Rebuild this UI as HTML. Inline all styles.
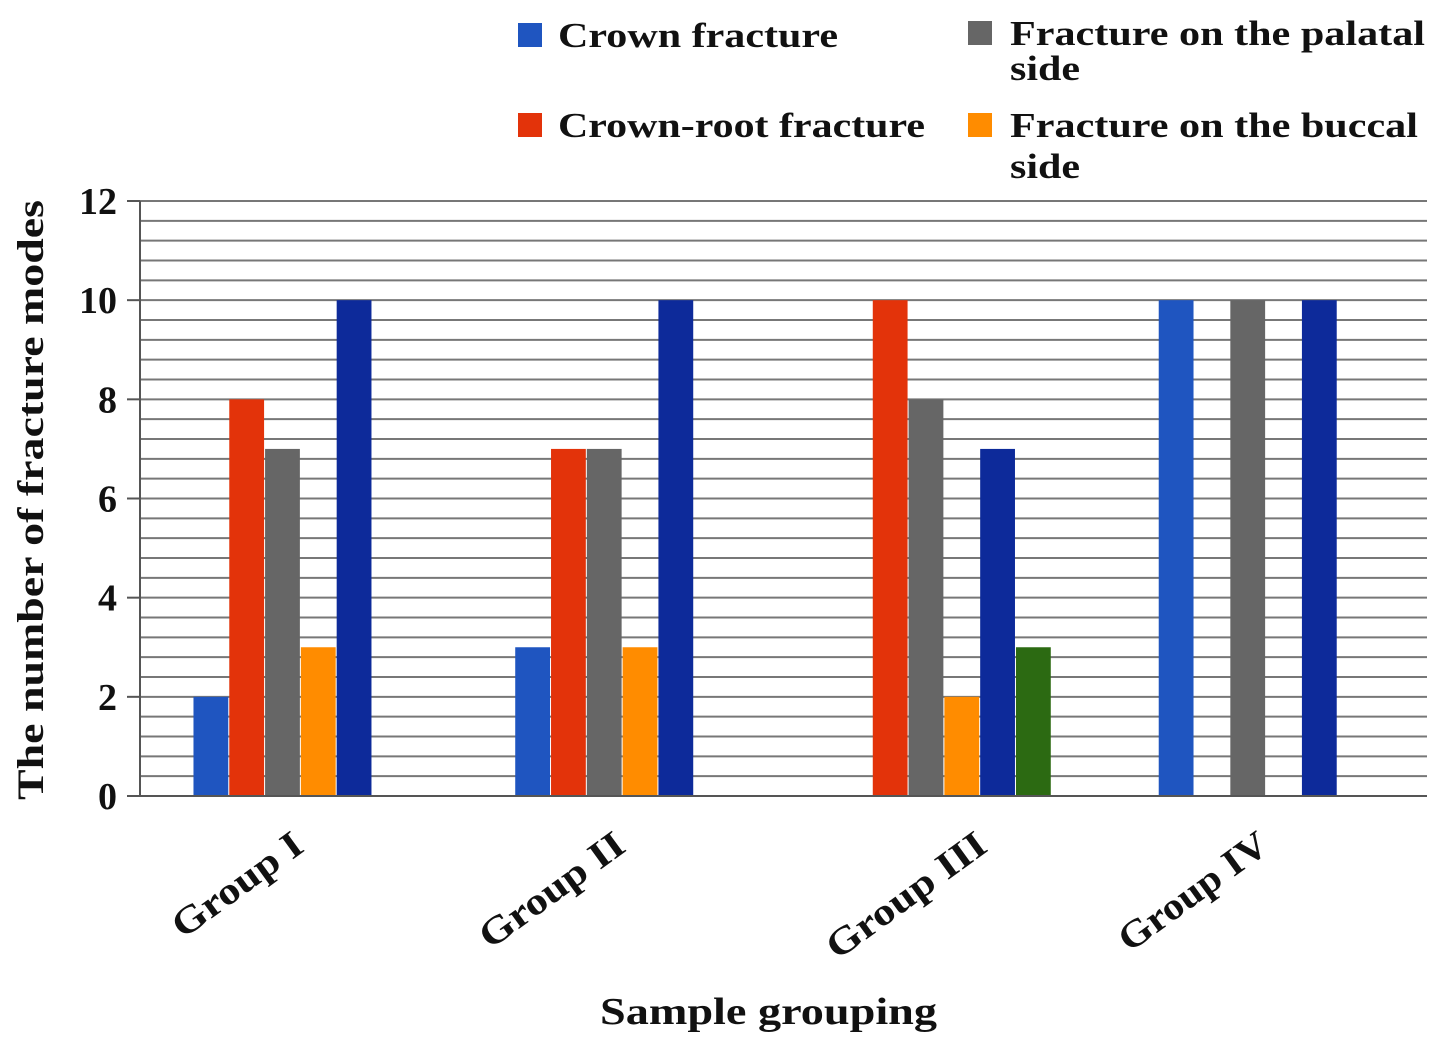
<!DOCTYPE html>
<html><head><meta charset="utf-8"><style>
body{margin:0;background:#fff;}
svg text{font-family:"Liberation Serif",serif;font-weight:bold;fill:#111;}
</style></head><body>
<svg id="chart" width="1441" height="1045" xmlns="http://www.w3.org/2000/svg">
<g id="grid"></g>
<g id="bars"></g>
<g id="axes"></g>
<text transform="translate(43,500) rotate(-90)" text-anchor="middle" font-size="37" textLength="600" lengthAdjust="spacingAndGlyphs">The number of fracture modes</text>
<text x="600" y="1024" font-size="38" textLength="337" lengthAdjust="spacingAndGlyphs">Sample grouping</text>
<g>
<rect x="518" y="23" width="24" height="24" fill="#1f55c0"/>
<text x="558" y="47" font-size="35" textLength="280" lengthAdjust="spacingAndGlyphs">Crown fracture</text>
<rect x="518" y="113" width="24" height="24" fill="#e3330a"/>
<text x="558" y="137" font-size="35" textLength="367" lengthAdjust="spacingAndGlyphs">Crown-root fracture</text>
<rect x="968" y="21" width="24" height="24" fill="#666666"/>
<text x="1010" y="45" font-size="35" textLength="415" lengthAdjust="spacingAndGlyphs">Fracture on the palatal</text>
<text x="1010" y="80" font-size="35" textLength="70" lengthAdjust="spacingAndGlyphs">side</text>
<rect x="968" y="113" width="24" height="24" fill="#ff8c00"/>
<text x="1010" y="137" font-size="35" textLength="408" lengthAdjust="spacingAndGlyphs">Fracture on the buccal</text>
<text x="1010" y="178" font-size="35" textLength="70" lengthAdjust="spacingAndGlyphs">side</text>
</g>
</svg>
<script>
const categories=["Group I","Group II","Group III","Group IV"];
const crown=[2,3,0,10];
const crownRoot=[8,7,10,0];
const palatal=[7,7,8,10];
const buccal=[3,3,2,0];
const navySeries=[10,10,7,10];
const greenSeries=[0,0,3,0];
const yTicks=[0,2,4,6,8,10,12];
const NS="http://www.w3.org/2000/svg";
const X0=140,X1=1427,Y0=796,Y12=201,YMAX=12;
const y=v=>Y0-(v/YMAX)*(Y0-Y12);
const catW=(X1-X0)/categories.length;
const slotW=35.8;
const series=[[crown,"#1f55c0","crown"],[crownRoot,"#e3330a","crown-root"],[palatal,"#666666","palatal"],[buccal,"#ff8c00","buccal"],[navySeries,"#0d2a9a","navy"],[greenSeries,"#2c6a12","green"]];
const xs=(i,s)=>X0+i*catW+(catW-slotW*series.length)/2+s*slotW;
function mk(tag,attrs,parent){const e=document.createElementNS(NS,tag);for(const k in attrs)e.setAttribute(k,attrs[k]);parent.appendChild(e);return e;}
const grid=document.getElementById('grid'),bars=document.getElementById('bars'),axes=document.getElementById('axes');
for(let v=0.4;v<=YMAX+0.001;v+=0.4){const l=mk('line',{x1:X0,x2:X1,y1:y(v),y2:y(v),stroke:'#777','stroke-width':2},grid);

}
series.forEach((sr,s)=>{sr[0].forEach((v,i)=>{if(v<=0)return;const r=mk('rect',{x:xs(i,s),y:y(v),width:slotW-1,height:Y0-y(v),fill:sr[1]},bars);

});});
mk('line',{x1:X0,x2:X0,y1:Y12,y2:Y0,stroke:'#555','stroke-width':2},axes);
mk('line',{x1:X0,x2:X1,y1:Y0,y2:Y0,stroke:'#555','stroke-width':2},axes);
yTicks.forEach(v=>{mk('line',{x1:127,x2:X0,y1:y(v),y2:y(v),stroke:'#555','stroke-width':2},axes);
const t=mk('text',{x:117,y:y(v)+13,'text-anchor':'end','font-size':38},axes);t.textContent=v;

});
const labelLens=[152,170,188,175];
const labelDx=[5,5,45,5];
categories.forEach((c,i)=>{const cx=X0+i*catW+catW/2+labelDx[i];const t=mk('text',{transform:`translate(${cx},${850}) rotate(-36)`,'text-anchor':'end','font-size':38,textLength:labelLens[i],lengthAdjust:'spacingAndGlyphs'},axes);t.textContent=c;

});
</script>
</body></html>
